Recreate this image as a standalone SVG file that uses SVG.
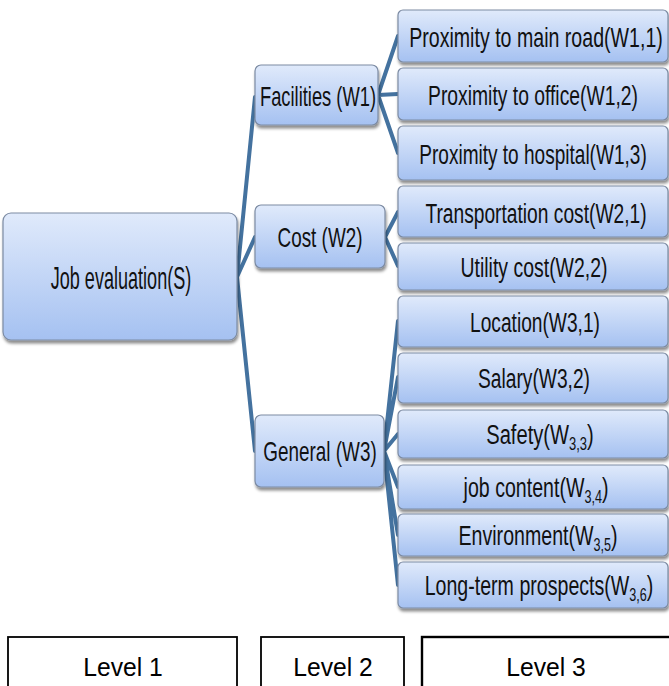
<svg xmlns="http://www.w3.org/2000/svg" width="669" height="686" viewBox="0 0 669 686">
<defs>
<linearGradient id="g" x1="0" y1="0" x2="0" y2="1">
<stop offset="0" stop-color="#e0eafb"/>
<stop offset="1" stop-color="#a5c1f1"/>
</linearGradient>
<filter id="sh" x="-10%" y="-10%" width="120%" height="140%">
<feDropShadow dx="1" dy="3" stdDeviation="1.8" flood-color="#000" flood-opacity="0.45"/>
</filter>
<style>
.box{fill:url(#g);stroke:#7c8ba3;stroke-width:1.2;filter:url(#sh)}
.t{font-family:"Liberation Sans",Arial,sans-serif;fill:#111;text-anchor:middle}
.l1{font-size:32px}
.l2{font-size:28px}
.l3{font-size:28px}
.sub{font-size:18px}
.lv{fill:#fff;stroke:#000;stroke-width:1.8}
.lt{font-family:"Liberation Sans",Arial,sans-serif;font-size:26px;fill:#000;text-anchor:middle}
.c{stroke:#44729f;stroke-width:4;fill:none;stroke-linecap:round}
</style>
</defs>
<rect width="669" height="686" fill="#fff"/>

<g id="connectors">
<path class="c" d="M237 277 L255 97 M237 277 L255 237 M237 277 L255 451"/>
<path class="c" d="M378 95 L398 36 M378 95 L398 94 M378 95 L398 153"/>
<path class="c" d="M385 237 L398 212 M385 237 L398 266"/>
<path class="c" d="M384 451 L398 321 M384 451 L398 377 M384 451 L398 434 M384 451 L398 487 M384 451 L398 535 M384 451 L398 585"/>
</g>

<g id="root"><rect class="box" x="3" y="213" width="234" height="127" rx="8"/><text class="t l1" transform="translate(121 289) scale(0.565 1)">Job evaluation(S)</text></g>

<g id="facilities"><rect class="box" x="255" y="65" width="123" height="60" rx="6"/><text class="t l2" transform="translate(318 106) scale(0.655 1)">Facilities (W1)</text></g>
<g id="cost"><rect class="box" x="255" y="205" width="130" height="63" rx="6"/><text class="t l2" transform="translate(320 247) scale(0.675 1)">Cost (W2)</text></g>
<g id="general"><rect class="box" x="255" y="415" width="129" height="72" rx="6"/><text class="t l2" transform="translate(320 461) scale(0.675 1)">General (W3)</text></g>

<g id="w11"><rect class="box" x="398" y="10" width="270" height="52" rx="5"/><text class="t l3" transform="translate(536 47) scale(0.7 1)">Proximity to main road(W1,1)</text></g>
<g id="w12"><rect class="box" x="398" y="68" width="270" height="52" rx="5"/><text class="t l3" transform="translate(533 105) scale(0.69 1)">Proximity to office(W1,2)</text></g>
<g id="w13"><rect class="box" x="398" y="126" width="270" height="54" rx="5"/><text class="t l3" transform="translate(533 164) scale(0.68 1)">Proximity to hospital(W1,3)</text></g>
<g id="w21"><rect class="box" x="398" y="186" width="270" height="51" rx="5"/><text class="t l3" transform="translate(536 223) scale(0.686 1)">Transportation cost(W2,1)</text></g>
<g id="w22"><rect class="box" x="398" y="243" width="270" height="47" rx="5"/><text class="t l3" transform="translate(534 277) scale(0.695 1)">Utility cost(W2,2)</text></g>
<g id="w31"><rect class="box" x="398" y="296" width="270" height="51" rx="5"/><text class="t l3" transform="translate(535 332) scale(0.685 1)">Location(W3,1)</text></g>
<g id="w32"><rect class="box" x="398" y="353" width="270" height="50" rx="5"/><text class="t l3" transform="translate(534 388) scale(0.686 1)">Salary(W3,2)</text></g>
<g id="w33"><rect class="box" x="398" y="410" width="270" height="48" rx="5"/><text class="t l3" transform="translate(540 444) scale(0.72 1)">Safety(W<tspan class="sub" dy="6">3,3</tspan><tspan dy="-6">)</tspan></text></g>
<g id="w34"><rect class="box" x="398" y="465" width="270" height="44" rx="5"/><text class="t l3" transform="translate(536 497) scale(0.7 1)">job content(W<tspan class="sub" dy="6">3,4</tspan><tspan dy="-6">)</tspan></text></g>
<g id="w35"><rect class="box" x="398" y="514" width="270" height="42" rx="5"/><text class="t l3" transform="translate(538 545) scale(0.7 1)">Environment(W<tspan class="sub" dy="6">3,5</tspan><tspan dy="-6">)</tspan></text></g>
<g id="w36"><rect class="box" x="398" y="562" width="270" height="46" rx="5"/><text class="t l3" transform="translate(539 595) scale(0.7 1)">Long-term prospects(W<tspan class="sub" dy="6">3,6</tspan><tspan dy="-6">)</tspan></text></g>

<g id="level1"><rect class="lv" x="8" y="637" width="229" height="60"/><text class="lt" transform="translate(123 676) scale(0.95 1)">Level 1</text></g>
<g id="level2"><rect class="lv" x="261" y="637" width="143" height="60"/><text class="lt" transform="translate(333 676) scale(0.95 1)">Level 2</text></g>
<g id="level3"><rect class="lv" x="422" y="637" width="260" height="60" style="stroke-width:2.4"/><text class="lt" transform="translate(546 676) scale(0.95 1)">Level 3</text></g>
</svg>
